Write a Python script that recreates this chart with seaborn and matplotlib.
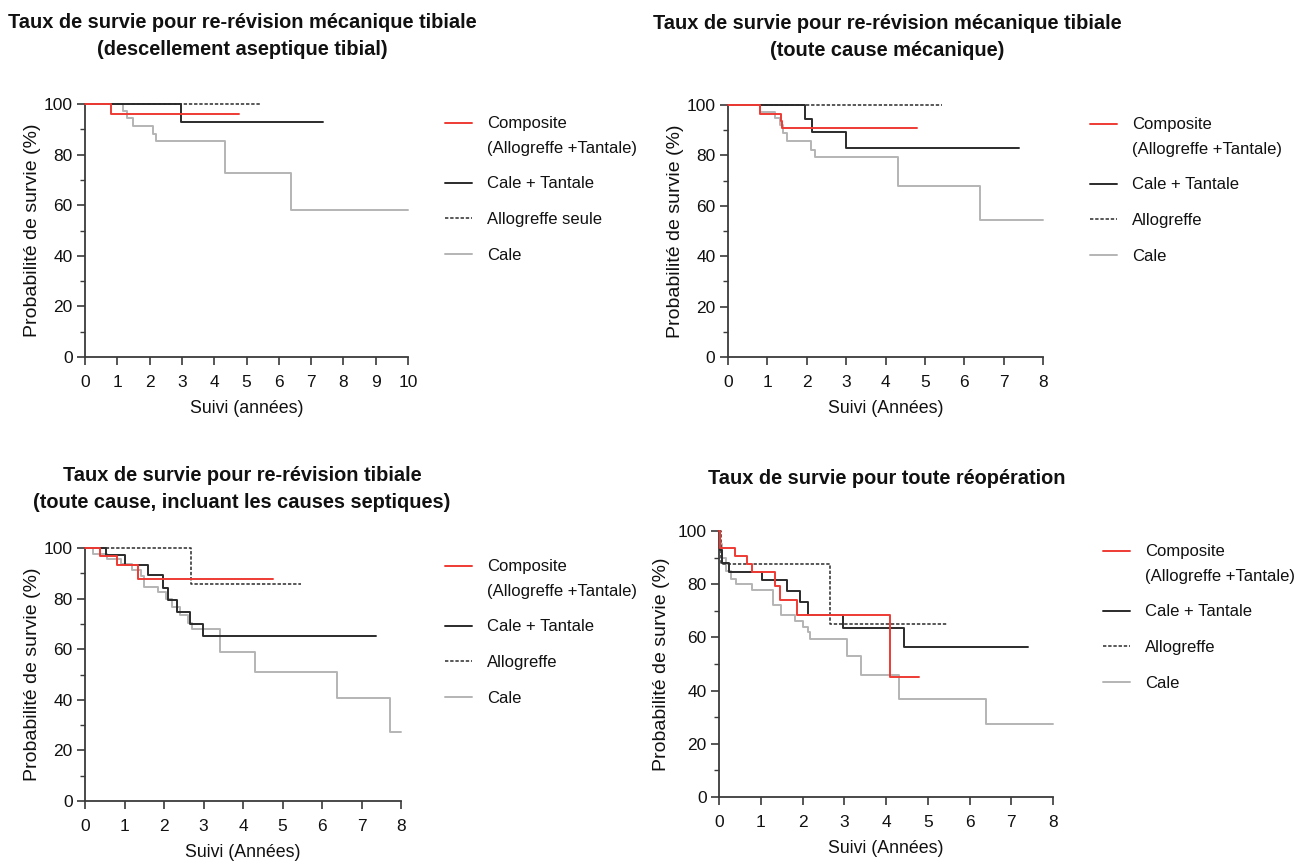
import numpy as np
import pandas as pd
import matplotlib
matplotlib.use("Agg")
import matplotlib.pyplot as plt
from matplotlib.lines import Line2D
from matplotlib.ticker import MultipleLocator
import seaborn as sns

sns.set_theme(style="white")
plt.rcParams['font.family'] = ['Liberation Sans', 'DejaVu Sans']

# ---------------- data ----------------
series_names = ["Composite", "Cale + Tantale", "Allogreffe", "Cale"]

# Panel 1 : descellement aseptique tibial
p1_comp_t = [0, 0.81, 4.78]
p1_comp_s = [100, 96.0, 96.0]
p1_ct_t = [0, 2.97, 7.38]
p1_ct_s = [100, 92.7, 92.7]
p1_allo_t = [0, 5.44]
p1_allo_s = [100, 100]
p1_cale_t = [0, 1.18, 1.30, 1.48, 2.10, 2.20, 4.33, 6.39, 10.0]
p1_cale_s = [100, 97.1, 94.3, 91.4, 88.3, 85.3, 72.9, 58.3, 58.3]

# Panel 2 : toute cause mécanique
p2_comp_t = [0, 0.81, 1.35, 1.38, 4.79]
p2_comp_s = [100, 96.3, 93.5, 90.8, 90.8]
p2_ct_t = [0, 1.95, 2.14, 2.99, 7.39]
p2_ct_s = [100, 94.4, 89.2, 82.8, 82.8]
p2_allo_t = [0, 5.43]
p2_allo_s = [100, 100]
p2_cale_t = [0, 0.81, 1.19, 1.32, 1.40, 1.50, 2.11, 2.20, 4.33, 6.40, 8.0]
p2_cale_s = [100, 97.3, 94.7, 91.9, 88.9, 85.6, 82.3, 79.2, 67.9, 54.3, 54.3]

# Panel 3 : toute cause, incluant septiques
p3_comp_t = [0, 0.37, 0.82, 1.35, 4.76]
p3_comp_s = [100, 96.7, 93.1, 87.7, 87.7]
p3_ct_t = [0, 0.54, 1.01, 1.60, 1.97, 2.10, 2.33, 2.67, 2.98, 7.37]
p3_ct_s = [100, 97.1, 93.4, 89.4, 84.2, 79.6, 74.9, 70.1, 65.1, 65.1]
p3_allo_t = [0, 2.69, 5.46]
p3_allo_s = [100, 85.7, 85.7]
p3_cale_t = [0, 0.20, 0.55, 0.90, 1.20, 1.42, 1.50, 1.85, 2.05, 2.20, 2.40, 2.60, 2.72,
             3.43, 4.30, 6.39, 7.72, 8.0]
p3_cale_s = [100, 97.5, 95.5, 93.5, 91.5, 89.0, 84.5, 82.5, 80.0, 76.5, 73.5, 70.5, 68.0,
             59.0, 51.0, 40.7, 27.1, 27.1]

# Panel 4 : toute réopération
p4_comp_t = [0, 0.02, 0.38, 0.67, 0.80, 1.34, 1.46, 1.86, 4.10, 4.78]
p4_comp_s = [100, 93.75, 90.6, 87.5, 84.4, 79.3, 74.2, 68.3, 45.3, 45.3]
p4_ct_t = [0, 0.02, 0.06, 0.24, 1.02, 1.62, 1.94, 2.12, 2.98, 4.42, 7.40]
p4_ct_s = [100, 93.0, 87.8, 84.4, 81.5, 77.3, 73.2, 68.3, 63.4, 56.3, 56.3]
p4_allo_t = [0, 0.05, 2.67, 5.46]
p4_allo_s = [100, 87.5, 65.1, 65.1]
p4_cale_t = [0, 0.02, 0.08, 0.16, 0.28, 0.40, 0.78, 1.30, 1.48, 1.82, 2.00, 2.12, 2.18,
             3.06, 3.40, 4.32, 6.40, 8.0]
p4_cale_s = [100, 95, 90, 85, 82, 80, 78, 72, 68.5, 66, 64, 62, 59.4,
             53, 46, 37, 27.6, 27.6]

titles = [
    "Taux de survie pour re-révision mécanique tibiale\n(descellement aseptique tibial)",
    "Taux de survie pour re-révision mécanique tibiale\n(toute cause mécanique)",
    "Taux de survie pour re-révision tibiale\n(toute cause, incluant les causes septiques)",
    "Taux de survie pour toute réopération",
]
xlabels = ["Suivi (années)", "Suivi (Années)", "Suivi (Années)", "Suivi (Années)"]
ylabel = "Probabilité de survie (%)"
legend_labels = [
    ["Composite\n(Allogreffe +Tantale)", "Cale + Tantale", "Allogreffe seule", "Cale"],
    ["Composite\n(Allogreffe +Tantale)", "Cale + Tantale", "Allogreffe", "Cale"],
    ["Composite\n(Allogreffe +Tantale)", "Cale + Tantale", "Allogreffe", "Cale"],
    ["Composite\n(Allogreffe +Tantale)", "Cale + Tantale", "Allogreffe", "Cale"],
]
xmax = [10, 8, 8, 8]

panels = [
    [(p1_comp_t, p1_comp_s), (p1_ct_t, p1_ct_s), (p1_allo_t, p1_allo_s), (p1_cale_t, p1_cale_s)],
    [(p2_comp_t, p2_comp_s), (p2_ct_t, p2_ct_s), (p2_allo_t, p2_allo_s), (p2_cale_t, p2_cale_s)],
    [(p3_comp_t, p3_comp_s), (p3_ct_t, p3_ct_s), (p3_allo_t, p3_allo_s), (p3_cale_t, p3_cale_s)],
    [(p4_comp_t, p4_comp_s), (p4_ct_t, p4_ct_s), (p4_allo_t, p4_allo_s), (p4_cale_t, p4_cale_s)],
]

# ---------------- styles ----------------
colors = ["#ee3a33", "#2b2b2b", "#2b2b2b", "#b4b4b4"]
styles = ["-", "-", (0, (2.2, 1.2)), "-"]
widths = [1.4, 1.4, 1.1, 1.4]
zorders = [5, 4, 3, 2]

W, H = 1304, 866
fig = plt.figure(figsize=(W / 100, H / 100), dpi=100)

# axes boxes in pixels: (left, top, right, bottom)
boxes = [(85, 104, 408, 357), (728, 105, 1043, 357), (85, 548, 401, 801), (719, 531, 1053, 797)]
title_pos = [(242, 36), (887, 37), (242, 489), (887, 478)]
legend_pos = [(445, 116), (1090, 117), (445, 559), (1103, 544)]
ylabel_x = [33, 676, 33, 662]

axis_col = "#3a3a3a"
for i in range(4):
    l, t, r, b = boxes[i]
    ax = fig.add_axes([l / W, 1 - b / H, (r - l) / W, (b - t) / H])
    for k, (tt, ss) in enumerate(panels[i]):
        df = pd.DataFrame({"t": tt, "s": ss})
        sns.lineplot(data=df, x="t", y="s", ax=ax, color=colors[k], linestyle=styles[k],
                     linewidth=widths[k], drawstyle="steps-post", estimator=None,
                     zorder=zorders[k], clip_on=False)
    ax.set_xlim(0, xmax[i])
    ax.set_ylim(0, 100)
    ax.xaxis.set_major_locator(MultipleLocator(1))
    ax.yaxis.set_major_locator(MultipleLocator(20))
    ax.yaxis.set_minor_locator(MultipleLocator(10))
    for sp in ["top", "right"]:
        ax.spines[sp].set_visible(False)
    for sp in ["left", "bottom"]:
        ax.spines[sp].set_color(axis_col)
        ax.spines[sp].set_linewidth(1.3)
    ax.tick_params(axis="both", which="major", direction="out", length=6, width=1.2,
                   color=axis_col, labelsize=12.5, labelcolor="#111111",
                   left=True, bottom=True)
    ax.tick_params(axis="x", which="major", pad=7)
    ax.tick_params(axis="y", which="major", pad=3)
    ax.tick_params(axis="y", which="minor", direction="out", length=3.5, width=1.0,
                   color=axis_col, left=True)
    ax.set_xlabel(xlabels[i], fontsize=12.8, color="#111111", labelpad=7)
    ax.set_ylabel("")
    ax.grid(False)
    ax.set_facecolor("white")
    # y label
    fig.text(ylabel_x[i] / W, 1 - ((t + b) / 2) / H, ylabel, rotation=90, ha="center",
             va="center", fontsize=14, color="#111111")
    # title
    tx, ty = title_pos[i]
    fig.text(tx / W, 1 - ty / H, titles[i], ha="center", va="center", fontsize=14.4,
             fontweight="bold", color="#111111", linespacing=1.55)
    # legend
    handles = [Line2D([], [], color=colors[k], linestyle=styles[k], linewidth=widths[k])
               for k in range(4)]
    lx, ly = legend_pos[i]
    leg = fig.legend(handles, legend_labels[i], loc="upper left",
                     bbox_to_anchor=(lx / W, 1 - ly / H), frameon=False, fontsize=12,
                     handlelength=1.6, handletextpad=0.9, labelspacing=1.25,
                     borderpad=0, borderaxespad=0)
    for txt in leg.get_texts():
        txt.set_color("#111111")
        txt.set_linespacing(1.8)
    # align the first (two-line) entry's handle with its first text line
    h0 = leg.legend_handles[0]
    yd = np.asarray(h0.get_ydata(), dtype=float)
    h0.set_ydata(yd + 9.0)

fig.savefig("out.png", dpi=100, facecolor="white")
